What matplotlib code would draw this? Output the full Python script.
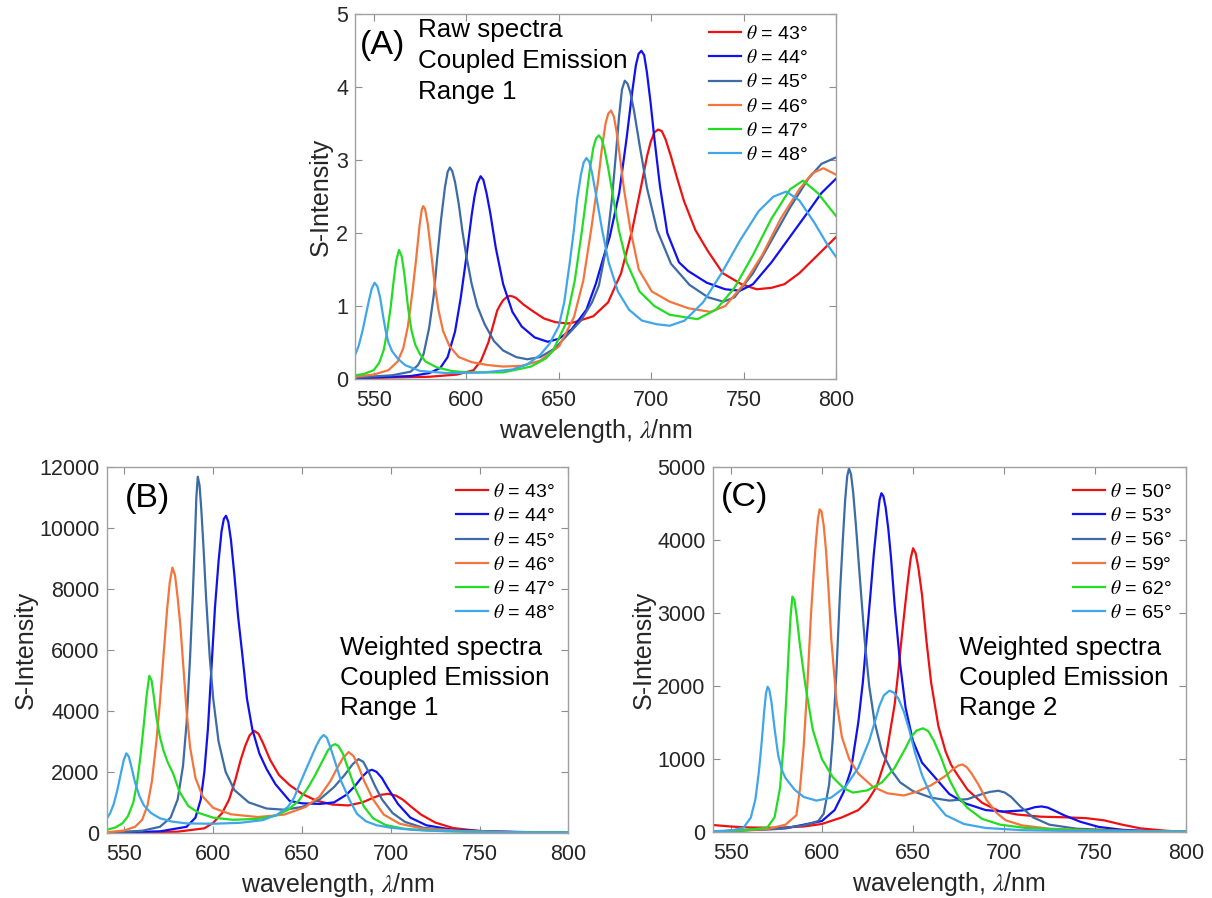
import numpy as np
import matplotlib.pyplot as plt

plt.rcParams['font.family'] = ['Liberation Sans', 'DejaVu Sans']
plt.rcParams['mathtext.fontset'] = 'stix'

colors = ['#EE1111', '#1111EE', '#3D6BA6', '#F4743B', '#22DD22', '#3FA6EA']
angles_range1 = [43, 44, 45, 46, 47, 48]
angles_range2 = [50, 53, 56, 59, 62, 65]

# (A) raw spectra, range 1 -- (wavelength nm, intensity)
a43 = np.array([(540, 0.01), (580, 0.03), (595, 0.06), (604, 0.12), (608, 0.25), (612, 0.5), (616.8, 0.94),
                (618.5, 1.02), (620, 1.08), (621.8, 1.12), (623.6, 1.14), (625.3, 1.13), (627, 1.11), (631, 1.02),
                (636.6, 0.92), (642, 0.83), (648, 0.78), (655, 0.76), (658.7, 0.78), (668.7, 0.86), (676.7, 1.05),
                (683.7, 1.45), (689.7, 2.04), (694.7, 2.66), (697.7, 3.05), (699.7, 3.25), (701.7, 3.38),
                (703.7, 3.42), (705.7, 3.4), (707.7, 3.29), (710.7, 3.05), (713.7, 2.78), (717.7, 2.44),
                (723.9, 2.04), (730.7, 1.75), (738.7, 1.45), (748.7, 1.3), (757, 1.23), (765, 1.25), (772, 1.3),
                (780, 1.45), (790, 1.7), (800, 1.95)])
a44 = np.array([(540, 0.01), (570, 0.04), (580, 0.08), (586, 0.15), (590, 0.3), (594, 0.65), (597, 1.1),
                (600, 1.65), (601.5, 1.95), (603, 2.25), (604.5, 2.5), (606, 2.68), (607.8, 2.78), (609.3, 2.73),
                (611, 2.55), (613, 2.28), (616, 1.8), (620, 1.3), (625, 0.92), (630, 0.72), (637, 0.57),
                (644, 0.51), (650, 0.55), (657, 0.68), (665, 0.95), (670, 1.3), (674, 1.65), (677.6, 1.95),
                (682.7, 2.55), (686.7, 3.3), (689.7, 3.93), (691.7, 4.3), (693.2, 4.46), (694.7, 4.5),
                (696.2, 4.44), (697.7, 4.2), (699.7, 3.78), (701.7, 3.3), (704.7, 2.65), (708.7, 2.0),
                (715, 1.6), (720, 1.48), (730, 1.32), (740, 1.23), (748, 1.21), (755, 1.3), (765, 1.6),
                (775, 1.95), (785, 2.3), (792, 2.55), (800, 2.75)])
a45 = np.array([(540, 0.02), (560, 0.05), (570, 0.1), (574, 0.19), (577, 0.34), (580, 0.7), (582.5, 1.15),
                (584.5, 1.7), (586.5, 2.2), (588.5, 2.62), (590, 2.84), (591.2, 2.9), (592.5, 2.85), (594, 2.7),
                (596, 2.4), (597.9, 2.04), (600, 1.7), (603, 1.3), (606, 1.0), (610, 0.75), (615, 0.52),
                (620, 0.39), (627, 0.3), (633, 0.27), (640, 0.3), (648, 0.42), (655.7, 0.63), (662, 0.8),
                (668, 1.05), (671.7, 1.28), (675.7, 1.8), (678.7, 2.45), (680.7, 3.02), (682.7, 3.62),
                (684.2, 3.97), (685.7, 4.09), (687.2, 4.05), (688.7, 3.93), (690.7, 3.68), (693.7, 3.21),
                (697.7, 2.62), (703.2, 2.04), (710.7, 1.58), (720.7, 1.29), (730.7, 1.12), (739, 1.06),
                (745, 1.12), (755, 1.45), (765, 1.9), (775, 2.35), (785, 2.75), (792, 2.95), (800, 3.04)])
a46 = np.array([(540, 0.03), (550, 0.06), (558, 0.12), (563, 0.24), (566, 0.42), (568.5, 0.72), (571, 1.2),
                (573, 1.65), (574.8, 2.1), (576, 2.32), (576.8, 2.37), (577.8, 2.33), (579.3, 2.12), (581, 1.75),
                (583, 1.3), (585, 0.95), (587.5, 0.66), (591, 0.45), (596, 0.3), (603, 0.23), (612, 0.19),
                (620, 0.17), (630, 0.18), (640, 0.25), (650.3, 0.45), (658.3, 0.85), (663.3, 1.35), (667.5, 2.04),
                (671.3, 2.72), (673.3, 3.15), (675.3, 3.5), (676.8, 3.64), (678.3, 3.68), (679.8, 3.6),
                (681.3, 3.39), (683.3, 3.0), (685.3, 2.6), (688.8, 2.04), (693.3, 1.5), (700.3, 1.2), (710, 1.06),
                (720, 0.97), (732, 0.92), (740, 1.0), (750, 1.3), (760, 1.7), (770, 2.2), (780, 2.6), (787, 2.82),
                (793, 2.89), (800, 2.8)])
a47 = np.array([(540, 0.05), (545, 0.07), (550, 0.12), (553, 0.22), (555.5, 0.4), (557.5, 0.68), (559.2, 0.98),
                (560.7, 1.32), (562.2, 1.62), (563.7, 1.77), (565.2, 1.68), (566.7, 1.42), (568.6, 0.98),
                (570.5, 0.66), (572.5, 0.47), (575, 0.34), (578, 0.24), (584, 0.16), (592, 0.11), (600, 0.09),
                (620, 0.09), (635, 0.17), (643, 0.28), (646.7, 0.38), (653.7, 0.75), (658.7, 1.35), (662.6, 2.04),
                (664.7, 2.45), (666.7, 2.85), (668.7, 3.17), (670.2, 3.3), (671.7, 3.34), (673.2, 3.29),
                (674.7, 3.16), (676.7, 2.9), (678.7, 2.6), (682.5, 2.04), (686.7, 1.6), (693.7, 1.2),
                (701.7, 1.0), (710, 0.88), (725, 0.82), (735, 0.95), (745, 1.25), (755, 1.7), (765, 2.2),
                (775, 2.6), (782, 2.72), (790, 2.55), (800, 2.23)])
a48 = np.array([(540, 0.33), (542, 0.46), (544, 0.66), (546, 0.9), (547.5, 1.08), (549, 1.24), (550.5, 1.32),
                (552, 1.27), (553.5, 1.12), (555, 0.88), (556.5, 0.66), (558, 0.5), (560, 0.38), (563, 0.28),
                (567, 0.19), (575, 0.11), (590, 0.08), (610, 0.09), (625, 0.13), (633, 0.2), (640, 0.33),
                (645, 0.48), (650, 0.72), (653, 1.05), (656, 1.6), (658.2, 2.04), (660, 2.47), (662, 2.8),
                (663.5, 2.97), (665, 3.03), (666.5, 2.98), (668, 2.83), (670, 2.55), (673.5, 2.04), (677, 1.6),
                (682, 1.2), (688, 0.95), (695, 0.8), (703, 0.75), (710, 0.73), (718, 0.8), (728, 1.05),
                (738, 1.45), (748, 1.9), (758, 2.3), (766, 2.5), (773, 2.57), (780, 2.45), (788, 2.15),
                (795, 1.85), (800, 1.67)])

# (B) weighted spectra, range 1
b43 = np.array([(540, 5), (580, 40), (595, 150), (600, 330), (605, 650), (609, 1100), (612.5, 1750),
                (615.5, 2400), (618, 2850), (620.5, 3200), (623, 3350), (625.5, 3250), (628, 2950), (632, 2400),
                (637, 1900), (643, 1570), (650, 1280), (658, 1060), (667, 930), (676, 900), (684, 1000),
                (690, 1150), (694.5, 1250), (698.7, 1280), (703, 1220), (707, 1080), (711, 880), (717, 600),
                (725, 340), (735, 160), (750, 60), (775, 20), (800, 10)])
b44 = np.array([(540, 5), (570, 50), (585, 200), (590, 500), (593, 1100), (595, 2000), (597, 3400), (599, 5400),
                (601, 7400), (603, 8900), (604.7, 9900), (606, 10300), (607.2, 10400), (608.5, 10200),
                (610, 9600), (612, 8400), (614, 7100), (616.4, 5840), (619, 4400), (622, 3400), (626, 2600),
                (630, 2100), (635, 1600), (643, 1050), (650, 970), (660, 950), (668, 1000), (675, 1250),
                (680, 1550), (684, 1850), (687, 2020), (689.4, 2070), (692, 2000), (695, 1800), (698, 1500),
                (704, 950), (711, 500), (720, 250), (735, 100), (760, 40), (800, 10)])
b45 = np.array([(540, 10), (560, 70), (570, 200), (576, 500), (580, 1100), (583, 2200), (585, 3600), (587, 5800),
                (588.5, 7800), (589.8, 9800), (590.5, 11000), (591.3, 11680), (592.3, 11400), (593.3, 10600),
                (594.5, 9400), (596, 7700), (598, 5800), (600, 4400), (603, 3000), (607, 2000), (612, 1400),
                (620, 1000), (630, 800), (640, 760), (650, 850), (660, 1100), (668, 1500), (674, 1900),
                (678.5, 2250), (681.8, 2420), (684.5, 2330), (687.5, 2000), (691, 1550), (695, 1100), (701, 650),
                (708, 360), (718, 170), (735, 80), (760, 30), (800, 10)])
b46 = np.array([(540, 20), (550, 80), (556, 200), (560, 430), (563, 900), (565.5, 1700), (568, 3000), (570, 4300),
                (572, 5800), (574, 7300), (575.5, 8200), (577, 8700), (578.5, 8450), (580, 7700), (581.5, 6800),
                (583, 5600), (585, 4000), (587, 2800), (590, 1800), (594, 1200), (600, 820), (610, 610),
                (625, 520), (640, 600), (652, 850), (660, 1200), (666, 1700), (670, 2150), (673, 2450),
                (676.2, 2650), (679, 2520), (682, 2150), (685, 1700), (690, 1100), (696, 600), (705, 300),
                (718, 140), (740, 60), (770, 20), (800, 10)])
b47 = np.array([(540, 100), (545, 180), (549, 320), (552, 550), (555, 1000), (557, 1600), (559, 2500), (561, 3600),
                (562.5, 4500), (564, 5150), (565.3, 5000), (566.5, 4500), (568, 3800), (570, 3150), (572, 2700),
                (574.5, 2300), (577.4, 1950), (581, 1350), (586, 880), (592, 650), (600, 500), (611, 430),
                (625, 460), (635, 560), (642, 750), (648, 1050), (653, 1450), (657, 1850), (661, 2300),
                (664.5, 2700), (667, 2870), (668.7, 2910), (670.5, 2850), (673, 2600), (676, 2100), (680, 1450),
                (685, 850), (690, 480), (697, 260), (707, 140), (720, 80), (740, 45), (770, 20), (800, 10)])
b48 = np.array([(540, 460), (542, 650), (544, 950), (546, 1400), (548, 1950), (549.7, 2400), (551.1, 2610),
                (552.5, 2500), (554, 2150), (556, 1650), (558.5, 1200), (561, 900), (565, 650), (570, 480),
                (577, 370), (585, 310), (600, 300), (615, 330), (628, 420), (636, 600), (642, 850), (645.5, 1150),
                (649, 1640), (652, 2050), (655, 2450), (658, 2850), (660.3, 3100), (662.1, 3210), (664, 3120),
                (666, 2800), (668.5, 2350), (672, 1700), (677, 1050), (681, 620), (686, 380), (692, 250),
                (700, 170), (712, 100), (730, 55), (750, 30), (780, 15), (800, 8)])

# (C) weighted spectra, range 2
c50 = np.array([(540, 96), (550, 75), (560, 62), (575, 58), (590, 75), (600, 110), (611, 200), (620, 300),
                (625, 420), (630, 620), (635, 1000), (640, 1750), (642, 2200), (643.7, 2630), (645.5, 3050),
                (647.3, 3450), (648.8, 3750), (650.1, 3886), (651.5, 3820), (653, 3620), (655, 3250),
                (657.4, 2630), (660, 2050), (664, 1450), (668, 1100), (671, 920), (674, 800), (680, 580),
                (688, 400), (697, 290), (707, 240), (720, 210), (735, 200), (745, 190), (755, 160), (765, 100),
                (775, 50), (790, 15), (800, 5)])
c53 = np.array([(540, 5), (580, 50), (600, 150), (607, 300), (612, 550), (616, 850), (620, 1500), (622.5, 2050),
                (624.5, 2630), (626.5, 3200), (628.5, 3800), (630.5, 4300), (631.7, 4550), (632.7, 4640),
                (633.8, 4600), (635, 4450), (636.5, 4150), (638, 3750), (640, 3100), (643, 2300), (646, 1700),
                (650, 1250), (655, 950), (661, 780), (670, 520), (679, 390), (690, 300), (700, 280), (710, 295),
                (713, 310), (717, 340), (720.6, 350), (724, 335), (728, 290), (733, 230), (742, 140), (752, 70),
                (765, 30), (780, 12), (800, 5)])
c56 = np.array([(540, 5), (575, 40), (590, 90), (598, 150), (601, 250), (604, 650), (606, 1280), (608, 2200),
                (610, 3300), (611.5, 4000), (612.8, 4550), (613.9, 4870), (614.9, 4980), (616, 4900),
                (617.2, 4650), (618.7, 4200), (620.5, 3600), (623.5, 2630), (626, 2000), (629, 1500), (633, 1100),
                (638, 850), (643, 680), (650, 560), (660, 470), (670, 430), (680, 450), (688, 520), (692.5, 550),
                (697, 565), (700.5, 540), (704, 480), (709, 350), (716, 200), (725, 100), (740, 45), (770, 15),
                (800, 5)])
c59 = np.array([(540, 5), (570, 40), (580, 100), (586, 230), (588, 600), (590, 1170), (592, 2000), (594, 2970),
                (595.5, 3550), (596.8, 4000), (597.9, 4300), (598.8, 4420), (599.8, 4390), (601, 4200),
                (602.3, 3850), (603.7, 3300), (605.2, 2630), (608, 1800), (611, 1300), (615, 1000), (620, 800),
                (628, 620), (636, 530), (645, 500), (652, 550), (660, 640), (668, 770), (672, 860), (675, 910),
                (677.2, 925), (679.5, 890), (682, 810), (686, 650), (690.4, 440), (696, 260), (701, 160),
                (710, 90), (725, 45), (750, 20), (800, 5)])
c62 = np.array([(540, 5), (560, 30), (570, 60), (574, 200), (577, 600), (579, 1200), (580.5, 1850), (581.7, 2450),
                (582.8, 2950), (583.8, 3223), (584.9, 3180), (586.2, 2950), (588, 2550), (591, 2000), (595, 1400),
                (600, 1000), (606, 750), (612, 600), (617, 540), (625, 570), (633, 680), (640, 880), (646, 1150),
                (649, 1300), (652, 1390), (655.6, 1420), (658.5, 1380), (661.5, 1250), (665, 1050), (670, 720),
                (675, 480), (680, 330), (688, 180), (698, 100), (712, 55), (740, 25), (770, 10), (800, 5)])
c65 = np.array([(540, 10), (550, 20), (557, 60), (561, 200), (563.5, 450), (565.5, 850), (567, 1250),
                (568.3, 1650), (569.3, 1900), (570.2, 1990), (571.1, 1950), (572.3, 1780), (574, 1420),
                (576, 1050), (578, 850), (580, 740), (585, 580), (590, 480), (597, 430), (605, 470), (613, 620),
                (620, 880), (626, 1250), (629, 1500), (631.5, 1720), (634, 1870), (637, 1935), (639.5, 1910),
                (642, 1830), (645, 1650), (648, 1400), (651, 1100), (655, 780), (661, 440), (668, 230),
                (678, 110), (690, 55), (710, 25), (740, 12), (800, 5)])

fig = plt.figure(figsize=(12.12, 8.98), dpi=100)
axA = fig.add_axes([0.293, 0.578, 0.397, 0.406])
axB = fig.add_axes([0.088, 0.0725, 0.381, 0.4075])
axC = fig.add_axes([0.588, 0.0735, 0.3905, 0.4065])


def draw_panel(ax, spectra, angles, ymax, ystep, letter, note, note_x, ylab_x, leg_anchor):
    for data, ang, col in zip(spectra, angles, colors):
        ax.plot(data[:, 0], data[:, 1], color=col, lw=1.6, label=r'$\theta$ = %d°' % ang)
    ax.set_xlim(540, 800)
    ax.set_ylim(0, ymax)
    ax.set_xticks(range(550, 801, 50))
    ax.set_yticks(np.arange(0, ymax + 1e-9, ystep))
    ax.tick_params(direction='in', top=True, right=True, length=5, width=0.8, color='#8c8c8c',
                   labelcolor='#262626', labelsize=15.5)
    ax.tick_params(axis='x', pad=8)
    ax.tick_params(axis='y', pad=5)
    for sp in ax.spines.values():
        sp.set_color('#a0a0a0')
        sp.set_linewidth(1.0)
    ax.set_xlabel(r'wavelength, $\lambda$/nm', fontsize=18, color='#262626')
    ax.set_ylabel('S-Intensity', fontsize=18, color='#262626')
    ax.yaxis.set_label_coords(ylab_x, 0.5)
    ax.text(note_x[0], 0.915, letter, transform=ax.transAxes, fontsize=24.5, va='center', ha='left')
    for line, yy in zip(note, note_x[2]):
        ax.text(note_x[1], yy, line, transform=ax.transAxes, fontsize=18.7, va='center', ha='left')
    ax.legend(loc='upper right', bbox_to_anchor=leg_anchor, frameon=False, fontsize=14,
              handlelength=1.65, handletextpad=0.25, labelspacing=0.32, borderpad=0, borderaxespad=0)


draw_panel(axA, [a43, a44, a45, a46, a47, a48], angles_range1, 5, 1, '(A)',
           ['Raw spectra', 'Coupled Emission', 'Range 1'], (0.01, 0.131, [0.956, 0.871, 0.786]),
           -0.0457, (0.94, 0.971))
draw_panel(axB, [b43, b44, b45, b46, b47, b48], angles_range1, 12000, 2000, '(B)',
           ['Weighted spectra', 'Coupled Emission', 'Range 1'], (0.039, 0.505, [0.505, 0.4235, 0.3415]),
           -0.150, (0.97, 0.956))
draw_panel(axC, [c50, c53, c56, c59, c62, c65], angles_range2, 5000, 1000, '(C)',
           ['Weighted spectra', 'Coupled Emission', 'Range 2'], (0.018, 0.521, [0.504, 0.422, 0.340]),
           -0.121, (0.97, 0.956))

fig.savefig('out.png', dpi=100)
